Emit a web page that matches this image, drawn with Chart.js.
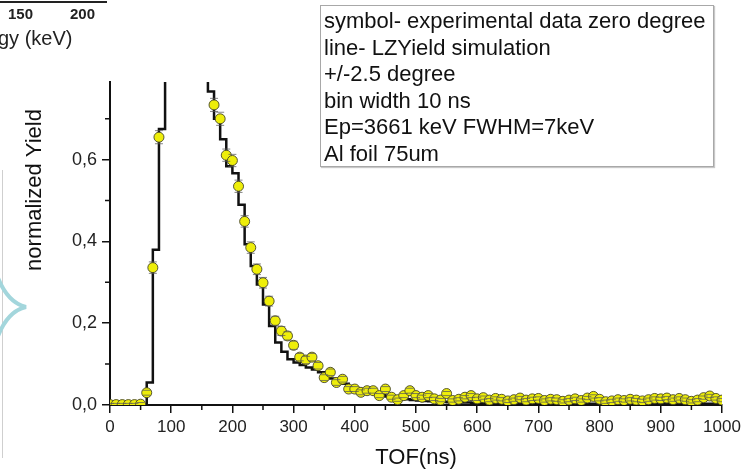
<!DOCTYPE html>
<html>
<head>
<meta charset="utf-8">
<script src="https://cdn.jsdelivr.net/npm/chart.js@4.4.0/dist/chart.umd.min.js"></script>
<style>
  body { margin: 0; background: #fff; font-family: "Liberation Sans", Arial, sans-serif; }
  #wrap { position: relative; width: 750px; height: 473px; overflow: hidden; }
  #tofChart { position: absolute; left: 0; top: 0; }
  .scrap { position: absolute; color: #222; white-space: nowrap; }
  #topLine { position: absolute; left: 0; top: 1px; width: 107px; height: 2px; background: #222; }
  #sideLine { position: absolute; left: 2px; top: 170px; width: 1px; height: 288px; background: #cfcfcf; }
  #note {
    position: absolute; left: 320px; top: 5px; width: 394px; height: 162px;
    border: 1px solid #a8a8a8; box-shadow: 1px 1px 1px #c8c8c8;
    font-size: 22px; line-height: 26.5px; color: #111; padding: 2px 0 0 3px; box-sizing: border-box;
    background: #fff;
  }
</style>
</head>
<body>
<div id="wrap">
  <canvas id="tofChart" width="750" height="473"></canvas>

  <!-- restes de la figure voisine -->
  <div id="topLine"></div>
  <div class="scrap" style="left:8px;top:5px;font-size:15px;font-weight:bold;">150</div>
  <div class="scrap" style="left:70px;top:5px;font-size:15px;font-weight:bold;">200</div>
  <div class="scrap" style="left:-2px;top:27px;font-size:20px;">gy (keV)</div>
  <div id="sideLine"></div>
  <svg style="position:absolute;left:0;top:0" width="60" height="473">
    <path d="M -2 278 Q 8 303 26 307 Q 8 311 -2 336" fill="none" stroke="#a3d6dc" stroke-width="4"/>
  </svg>

  <div id="note">
    symbol- experimental data zero degree<br>
    line- LZYield simulation<br>
    +/-2.5 degree<br>
    bin width 10 ns<br>
    Ep=3661 keV FWHM=7keV<br>
    Al foil 75um
  </div>
</div>

<script>
// TOF (ns), début de chaque bin de 10 ns
const tof = [0, 10, 20, 30, 40, 50, 60, 70, 80, 90,
  100, 110, 120, 130, 140, 150, 160, 170, 180, 190,
  200, 210, 220, 230, 240, 250, 260, 270, 280, 290,
  300, 310, 320, 330, 340, 350, 360, 370, 380, 390,
  400, 410, 420, 430, 440, 450, 460, 470, 480, 490,
  500, 510, 520, 530, 540, 550, 560, 570, 580, 590,
  600, 610, 620, 630, 640, 650, 660, 670, 680, 690,
  700, 710, 720, 730, 740, 750, 760, 770, 780, 790,
  800, 810, 820, 830, 840, 850, 860, 870, 880, 890,
  900, 910, 920, 930, 940, 950, 960, 970, 980, 990, 1000];

// simulation LZYield (histogramme)
const simYield = [0, 0, 0, 0, 0, 0, 0.055, 0.38, 0.675, 0.92,
  1.0, 0.99, 0.96, 0.92, 0.88, 0.83, 0.767, 0.70, 0.65, 0.584,
  0.567, 0.49, 0.393, 0.34, 0.295, 0.246, 0.193, 0.153, 0.13, 0.112,
  0.104, 0.098, 0.092, 0.087, 0.08, 0.072, 0.065, 0.06, 0.052, 0.045,
  0.04, 0.035, 0.03, 0.027, 0.024, 0.021, 0.018, 0.016, 0.014, 0.012,
  0.011, 0.01, 0.009, 0.008, 0.008, 0.007, 0.007, 0.006, 0.006, 0.005,
  0.005, 0.004, 0.004, 0.004, 0.004, 0.004, 0.004, 0.004, 0.004, 0.004,
  0.004, 0.003, 0.003, 0.003, 0.003, 0.003, 0.003, 0.003, 0.003, 0.003,
  0.003, 0.003, 0.003, 0.003, 0.003, 0.003, 0.003, 0.003, 0.003, 0.003,
  0.003, 0.003, 0.003, 0.003, 0.003, 0.003, 0.003, 0.003, 0.003, 0.003, 0.003];

// données expérimentales, zéro degré
const expYield = [0.001, 0.001, 0.001, 0.001, 0.001, 0.002, 0.03, 0.336, 0.655, 0.9,
  0.98, 1.0, 0.97, 0.93, 0.89, 0.85, 0.83, 0.734, 0.70, 0.611,
  0.598, 0.535, 0.449, 0.385, 0.332, 0.299, 0.254, 0.206, 0.181, 0.169,
  0.146, 0.117, 0.11, 0.117, 0.096, 0.067, 0.08, 0.055, 0.063, 0.039,
  0.039, 0.031, 0.035, 0.035, 0.023, 0.039, 0.019, 0.013, 0.023, 0.035,
  0.023, 0.019, 0.023, 0.015, 0.012, 0.028, 0.011, 0.014, 0.019, 0.023,
  0.015, 0.018, 0.012, 0.016, 0.014, 0.01, 0.013, 0.017, 0.012, 0.015,
  0.016, 0.011, 0.014, 0.013, 0.009, 0.012, 0.015, 0.011, 0.017, 0.021,
  0.014, 0.008, 0.01, 0.013, 0.011, 0.014, 0.012, 0.01, 0.013, 0.016,
  0.015, 0.017, 0.013, 0.016, 0.013, 0.009, 0.012, 0.018, 0.022, 0.016, 0.012];

// barres d'erreur (estimées sur l'image)
const expErr = [0.003, 0.003, 0.003, 0.003, 0.003, 0.004, 0.006, 0.014, 0.016, 0.016,
  0.016, 0.016, 0.016, 0.016, 0.016, 0.016, 0.016, 0.016, 0.016, 0.015,
  0.015, 0.015, 0.014, 0.014, 0.013, 0.013, 0.012, 0.011, 0.011, 0.01,
  0.01, 0.009, 0.009, 0.009, 0.008, 0.007, 0.008, 0.007, 0.007, 0.006,
  0.006, 0.006, 0.006, 0.006, 0.005, 0.006, 0.005, 0.004, 0.005, 0.006,
  0.005, 0.005, 0.005, 0.004, 0.004, 0.005, 0.004, 0.004, 0.004, 0.005,
  0.004, 0.004, 0.004, 0.004, 0.004, 0.004, 0.004, 0.004, 0.004, 0.004,
  0.004, 0.004, 0.004, 0.004, 0.004, 0.004, 0.004, 0.004, 0.004, 0.004,
  0.004, 0.004, 0.004, 0.004, 0.004, 0.004, 0.004, 0.004, 0.004, 0.004,
  0.004, 0.004, 0.004, 0.004, 0.004, 0.004, 0.004, 0.004, 0.004, 0.004, 0.004];

const minorTicksX = [50, 150, 250, 350, 450, 550, 650, 750, 850, 950];
const minorTicksY = [0.1, 0.3, 0.5, 0.7];
const majorTicksY = [0, 0.2, 0.4, 0.6];

const FONT = '"Liberation Sans", Arial, sans-serif';
const INK = '#111';

// petits ticks, barres d'erreur et titre de l'axe Y
const axisExtras = {
  id: 'axisExtras',
  afterDatasetsDraw(chart) {
    const { ctx, chartArea, scales: { x, y } } = chart;
    ctx.save();
    ctx.beginPath();
    ctx.rect(chartArea.left, chartArea.top, chartArea.width, chartArea.height);
    ctx.clip();
    ctx.strokeStyle = 'rgba(90,90,90,0.75)';
    ctx.lineWidth = 1;
    ctx.beginPath();
    tof.forEach((t, i) => {
      const px = x.getPixelForValue(t);
      const hi = y.getPixelForValue(expYield[i] + expErr[i]);
      const lo = y.getPixelForValue(expYield[i] - expErr[i]);
      ctx.moveTo(px - 4, hi); ctx.lineTo(px + 4, hi);
      ctx.moveTo(px - 4, lo); ctx.lineTo(px + 4, lo);
    });
    ctx.stroke();
    ctx.restore();
  },
  afterDraw(chart) {
    const { ctx, chartArea, scales: { x, y } } = chart;
    ctx.save();
    ctx.strokeStyle = INK;
    ctx.lineWidth = 1.5;
    ctx.beginPath();
    minorTicksX.forEach(v => {
      const px = x.getPixelForValue(v);
      ctx.moveTo(px, chartArea.bottom);
      ctx.lineTo(px, chartArea.bottom + 5);
    });
    minorTicksY.forEach(v => {
      const py = y.getPixelForValue(v);
      ctx.moveTo(chartArea.left, py);
      ctx.lineTo(chartArea.left - 5, py);
    });
    ctx.stroke();

    ctx.translate(35, 190);
    ctx.rotate(-Math.PI / 2);
    ctx.font = '22px ' + FONT;
    ctx.fillStyle = INK;
    ctx.textAlign = 'center';
    ctx.textBaseline = 'middle';
    ctx.fillText('normalized Yield', 0, 0);
    ctx.restore();
  }
};

const ctx = document.getElementById('tofChart').getContext('2d');
const tofChart = new Chart(ctx, {
  type: 'line',
  data: {
    datasets: [{
      label: 'experimental data zero degree',
      data: tof.map((t, i) => ({ x: t, y: expYield[i] })),
      showLine: false,
      pointRadius: 5,
      pointBackgroundColor: 'rgb(238,238,10)',
      pointBorderColor: 'rgba(70,70,40,0.9)',
      pointBorderWidth: 1,
      order: 0
    }, {
      label: 'LZYield simulation',
      data: tof.map((t, i) => ({ x: t, y: simYield[i] })),
      stepped: true,
      borderColor: INK,
      borderWidth: 2.5,
      pointRadius: 0,
      fill: false,
      order: 1
    }]
  },
  options: {
    responsive: false,
    animation: false,
    devicePixelRatio: 1,
    layout: { padding: { top: 82, right: 28, left: 0, bottom: 0 } },
    plugins: { legend: { display: false }, tooltip: { enabled: false } },
    scales: {
      x: {
        type: 'linear',
        min: 0,
        max: 1000,
        afterFit: s => { s.height = 68; },
        border: { display: true, color: INK, width: 2 },
        grid: { drawOnChartArea: false, drawTicks: true, tickLength: 8, color: INK, lineWidth: 1.5 },
        ticks: { stepSize: 100, padding: 4, color: '#222', font: { size: 17, family: FONT }, callback: v => String(v) },
        title: { display: true, text: 'TOF(ns)', color: INK, font: { size: 22, family: FONT }, padding: { top: 0, bottom: 2 } }
      },
      y: {
        type: 'linear',
        min: 0,
        max: 0.79,
        afterFit: s => { s.width = 110; },
        afterBuildTicks: s => { s.ticks = majorTicksY.map(v => ({ value: v })); },
        border: { display: true, color: INK, width: 2 },
        grid: { drawOnChartArea: false, drawTicks: true, tickLength: 8, color: INK, lineWidth: 1.5 },
        ticks: {
          padding: 5,
          color: '#222',
          font: { size: 18, family: FONT },
          callback: v => v.toFixed(1).replace('.', ',')
        }
      }
    }
  },
  plugins: [axisExtras]
});
</script>
</body>
</html>
